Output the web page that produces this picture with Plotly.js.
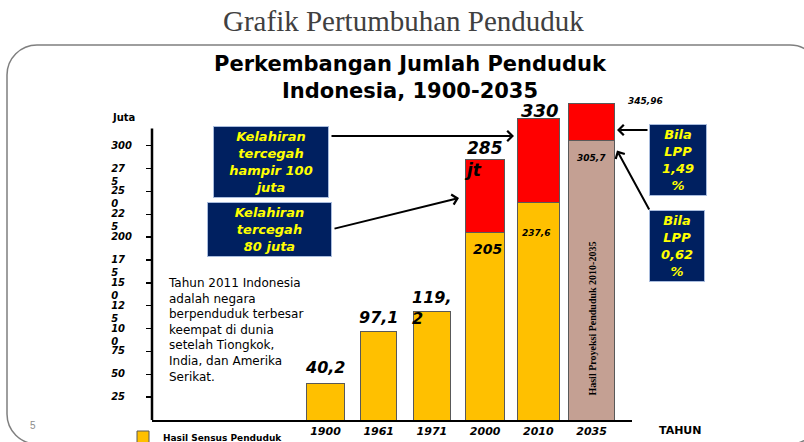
<!DOCTYPE html>
<html>
<head>
<meta charset="utf-8">
<script src="https://cdn.plot.ly/plotly-3.0.1.min.js"></script>
<style>html,body{margin:0;padding:0;background:#fff;}#chart{width:804px;height:442px;}</style>
</head>
<body>
<div id="chart"></div>
<script>
// ---- data (juta jiwa) ----
const years = ['1900', '1961', '1971', '2000', '2010', '2035'];
const censusPop = [40.2, 97.1, 119.2, 205, 237.6, null];          // Hasil Sensus Penduduk
const projectionLow = [null, null, null, null, null, 305.7];       // proyeksi bila LPP 0,62 %
const withoutPrevention = [null, null, null, 285, 330, 345.96];    // tanpa kelahiran tercegah / LPP 1,49 %
const yTickVals = [25, 50, 75, 100, 125, 150, 175, 200, 225, 250, 275, 300];
const yTickText = ['25', '50', '75', '10<br>0', '12<br>5', '15<br>0', '17<br>5', '200', '22<br>5', '25<br>0', '27<br>5', '300'];

// ---- layout geometry ----
const W = 804, H = 442;
const M = {l: 152, r: 172, t: 50, b: 22, autoexpand: false};
const pw = W - M.l - M.r, ph = H - M.t - M.b;
const PX = x => (x - M.l) / pw;
const PY = y => (H - M.b - y) / ph;
const Y_MAX = 404.7;
const yPix = v => H - M.b - v / Y_MAX * ph;
const barWidths = [0.70, 0.68, 0.70, 0.73, 0.79, 0.88];

const base = censusPop.map((v, i) => v != null ? v : projectionLow[i]);
const extra = withoutPrevention.map((v, i) => v != null ? +(v - base[i]).toFixed(2) : null);
const fmt = v => String(v).replace('.', ',');

// tick labels drawn left-aligned in the slide: pad lines with figure spaces
const FS = '\u2007';
const padLine = s => s + FS.repeat(Math.max(0, 3 - s.length));
const yTickLabels = yTickText.map(t => {
  const lines = t.split('<br>');
  if (lines.length === 1) lines.push('');
  return lines.map(padLine).join('<br>');
});

const lineStyle = {color: '#595959', width: 1};
const traces = [
  {type: 'bar', name: 'Hasil Sensus Penduduk', x: years, y: censusPop, width: barWidths,
   marker: {color: '#FFC000', line: {color: '#595959', width: 1}}, hoverinfo: 'x+y'},
  {type: 'bar', name: 'Hasil Proyeksi Penduduk 2010-2035', x: years, y: projectionLow, width: barWidths,
   marker: {color: '#C4A093', line: lineStyle}, showlegend: false},
  {type: 'bar', name: 'Kelahiran tercegah', x: years, y: extra, width: barWidths,
   marker: {color: '#FF0000', line: lineStyle}, showlegend: false}
];

const BI = {family: 'DejaVu Sans', weight: 'bold', style: 'italic', color: '#000'};
const ann = [];
function add(o) { ann.push(Object.assign({xanchor: 'center', yanchor: 'middle', showarrow: false}, o)); }
// value labels
add({x: 0, y: censusPop[0], xref: 'x', yref: 'y', text: fmt(censusPop[0]),
  yanchor: 'bottom', yshift: 4, font: Object.assign({size: 16}, BI)});
add({x: 1, y: censusPop[1], xref: 'x', yref: 'y', text: fmt(censusPop[1]),
  yanchor: 'bottom', yshift: 2, font: Object.assign({size: 16}, BI)});
const l71 = fmt(censusPop[2]);
add({x: 2, y: censusPop[2], xref: 'x', yref: 'y', text: l71.slice(0, -1) + '<br>' + l71.slice(-1),
  xanchor: 'left', xshift: -22, yshift: 3, align: 'left', font: Object.assign({size: 16}, BI)});
add({x: 3 - barWidths[3] / 2, y: withoutPrevention[3], xref: 'x', yref: 'y', text: fmt(withoutPrevention[3]) + '<br>jt',
  xanchor: 'left', xshift: -4, yshift: 0, align: 'left', font: Object.assign({size: 17}, BI)});
add({x: 4, y: withoutPrevention[4], xref: 'x', yref: 'y', text: fmt(withoutPrevention[4]),
  yanchor: 'bottom', yshift: -5, xshift: 2, font: Object.assign({size: 18}, BI)});
add({x: 5 + barWidths[5] / 2, y: withoutPrevention[5], xref: 'x', yref: 'y', text: fmt(withoutPrevention[5]),
  xanchor: 'left', xshift: 11, yshift: 3, font: Object.assign({size: 9}, BI)});
add({x: 3, y: censusPop[3], xref: 'x', yref: 'y', text: fmt(censusPop[3]),
  yshift: -16, xshift: 2, font: Object.assign({size: 14}, BI)});
add({x: 4, y: censusPop[4], xref: 'x', yref: 'y', text: fmt(censusPop[4]),
  yshift: -30, xshift: -2, font: Object.assign({size: 9}, BI)});
add({x: 5, y: projectionLow[5], xref: 'x', yref: 'y', text: fmt(projectionLow[5]),
  yshift: -17, font: Object.assign({size: 9}, BI)});
// vertical label in projection bar
add({x: 5, y: PY(319), xref: 'x', yref: 'paper', text: 'Hasil Proyeksi Penduduk 2010-2035', textangle: -90,
  font: {family: 'Liberation Serif', size: 10, weight: 'bold', color: '#000'}});

// callout boxes
function box(cx, cy, w, h, text) {
  add({x: PX(cx), y: PY(cy), xref: 'paper', yref: 'paper', text: text,
    width: w - 4, height: h - 4, borderpad: 1, borderwidth: 1, bordercolor: '#A9BCDD', bgcolor: '#002060',
    font: {family: 'DejaVu Sans', size: 13, weight: 'bold', style: 'italic', color: '#FFFF00'}});
}
box(271, 161.5, 116, 72, 'Kelahiran<br>tercegah<br>hampir 100<br>juta');
box(269.5, 229.5, 125, 55, 'Kelahiran<br>tercegah<br>80 juta');
box(678, 160, 58, 72, 'Bila<br>LPP<br>1,49<br>%');
box(677, 246, 56, 72, 'Bila<br>LPP<br>0,62<br>%');

// arrows
function arrow(tx, ty, sx, sy) {
  ann.push({x: PX(tx), y: PY(ty), xref: 'paper', yref: 'paper', ax: sx - tx, ay: sy - ty, axref: 'pixel', ayref: 'pixel',
    text: '', showarrow: true, arrowhead: 4, arrowsize: 1, arrowwidth: 2, arrowcolor: '#000', standoff: 0});
}
arrow(514, 136, 330, 136);
arrow(459, 198, 333, 229);
arrow(617, 130, 649, 130);
arrow(617, yPix(projectionLow[5]) + 10, 650, 211);

// paragraph
add({x: PX(166), y: PY(329.5), xref: 'paper', yref: 'paper', xanchor: 'left', align: 'left',
  text: 'Tahun 2011 Indonesia<br>adalah negara<br>berpenduduk terbesar<br>keempat di dunia<br>setelah Tiongkok,<br>India, dan Amerika<br>Serikat.',
  font: {family: 'DejaVu Sans', size: 12, color: '#000'}});
// axis captions
add({x: PX(123), y: PY(117), xref: 'paper', yref: 'paper', text: 'Juta',
  font: {family: 'DejaVu Sans', size: 10, weight: 'bold', color: '#000'}});
add({x: PX(680), y: PY(430), xref: 'paper', yref: 'paper', text: 'TAHUN',
  font: {family: 'DejaVu Sans', size: 11, weight: 'bold', color: '#000'}});
// slide header and number
add({x: PX(403), y: PY(21), xref: 'paper', yref: 'paper', text: 'Grafik Pertumbuhan Penduduk',
  font: {family: 'Liberation Serif', size: 29, color: '#404040'}});
add({x: PX(33), y: PY(425), xref: 'paper', yref: 'paper', text: '5',
  font: {family: 'Liberation Sans', size: 10, color: '#8c8c8c'}});

// slide frame (rounded rectangle)
function frame(L, T, R, B, r) {
  const k = 0.5523 * r;
  const p = (x, y) => PX(x) + ',' + PY(y);
  return 'M' + p(L + r, T) + ' L' + p(R - r, T) +
    ' C' + p(R - r + k, T) + ' ' + p(R, T + r - k) + ' ' + p(R, T + r) +
    ' L' + p(R, B - r) +
    ' C' + p(R, B - r + k) + ' ' + p(R - r + k, B) + ' ' + p(R - r, B) +
    ' L' + p(L + r, B) +
    ' C' + p(L + r - k, B) + ' ' + p(L, B - r + k) + ' ' + p(L, B - r) +
    ' L' + p(L, T + r) +
    ' C' + p(L, T + r - k) + ' ' + p(L + r - k, T) + ' ' + p(L + r, T) + ' Z';
}
const shapes = [
  {type: 'path', xref: 'paper', yref: 'paper', path: frame(7, 45, 820, 444, 30), line: {color: '#7f7f7f', width: 1.5}, layer: 'below'},
  {type: 'line', xref: 'paper', yref: 'y', x0: 0, x1: 0, y0: 0, y1: 318.8, line: {color: '#000', width: 2.5}}
];

const layout = {
  width: W, height: H, margin: M, paper_bgcolor: '#fff', plot_bgcolor: 'rgba(0,0,0,0)',
  barmode: 'stack',
  title: {text: 'Perkembangan Jumlah Penduduk<br>Indonesia, 1900-2035', x: 410 / W, xanchor: 'center',
    y: 1 - 71 / H, yanchor: 'top', yref: 'container',
    font: {family: 'DejaVu Sans', size: 21, weight: 'bold', color: '#000'}},
  xaxis: {type: 'category', range: [-3.26, 5.76], showline: true, linecolor: '#000', linewidth: 2,
    ticks: '', showgrid: false, zeroline: false, fixedrange: true, automargin: false,
    tickfont: {family: 'DejaVu Sans', size: 11, weight: 'bold', style: 'italic', color: '#000'}},
  yaxis: {range: [0, Y_MAX], showline: false, showgrid: false, zeroline: false, automargin: false,
    tickmode: 'array', tickvals: yTickVals, ticktext: yTickLabels,
    ticks: 'outside', ticklen: 5, tickwidth: 1.5, tickcolor: '#000', ticklabelstandoff: 12, ticklabelshift: 6,
    tickfont: {family: 'DejaVu Sans', size: 10, weight: 'bold', style: 'italic', color: '#000'}},
  showlegend: true,
  legend: {x: PX(123), xanchor: 'left', y: PY(437), yanchor: 'middle', orientation: 'h',
    bgcolor: 'rgba(0,0,0,0)', font: {family: 'DejaVu Sans', size: 9, weight: 'bold', color: '#000'}},
  annotations: ann, shapes: shapes
};
Plotly.newPlot('chart', traces, layout, {displayModeBar: false, staticPlot: true});
</script>
</body>
</html>
